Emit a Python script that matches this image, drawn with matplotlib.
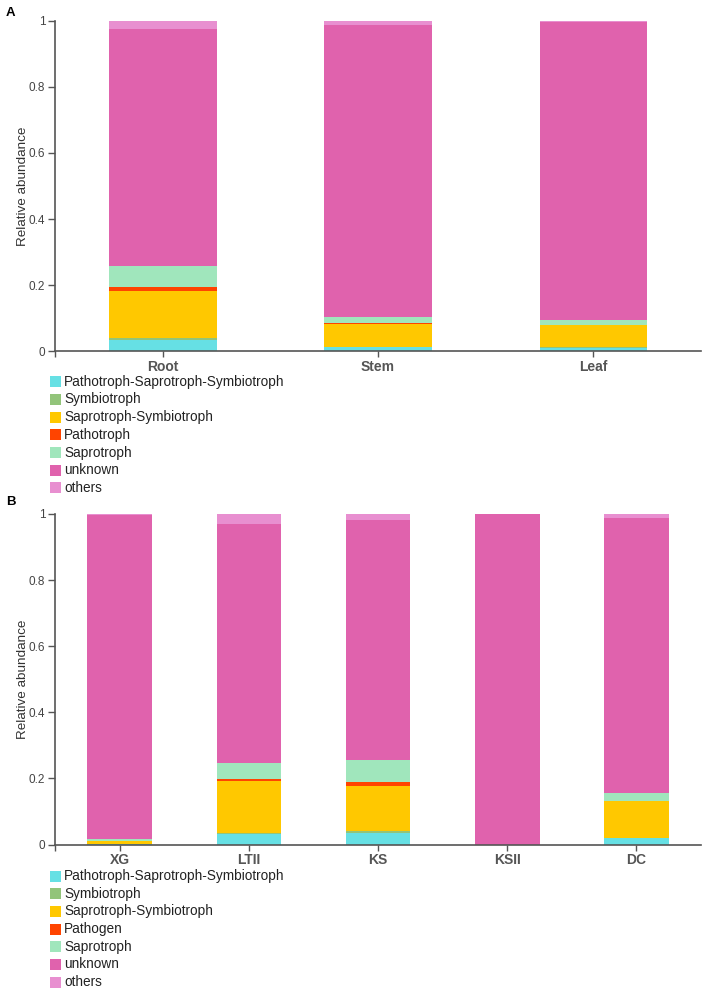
import matplotlib.pyplot as plt
from matplotlib.patches import Rectangle

plt.rcParams['font.family'] = ['Liberation Sans', 'DejaVu Sans']

# panel A: tissues
tissues = ["Root", "Stem", "Leaf"]
guilds_a = ["Pathotroph-Saprotroph-Symbiotroph", "Symbiotroph", "Saprotroph-Symbiotroph",
            "Pathotroph", "Saprotroph", "unknown", "others"]
a_pss = [0.035, 0.012, 0.011]
a_sym = [0.005, 0.001, 0.001]
a_ss = [0.143, 0.070, 0.067]
a_path = [0.011, 0.003, 0.001]
a_sap = [0.064, 0.019, 0.015]
a_unk = [0.717, 0.882, 0.900]
a_oth = [0.025, 0.013, 0.005]

# panel B: sites
sites = ["XG", "LTII", "KS", "KSII", "DC"]
guilds_b = ["Pathotroph-Saprotroph-Symbiotroph", "Symbiotroph", "Saprotroph-Symbiotroph",
            "Pathogen", "Saprotroph", "unknown", "others"]
b_pss = [0.002, 0.033, 0.034, 0.000, 0.020]
b_sym = [0.001, 0.001, 0.006, 0.000, 0.001]
b_ss = [0.008, 0.159, 0.136, 0.000, 0.110]
b_path = [0.000, 0.006, 0.014, 0.000, 0.001]
b_sap = [0.005, 0.048, 0.065, 0.000, 0.023]
b_unk = [0.982, 0.723, 0.727, 1.000, 0.834]
b_oth = [0.002, 0.030, 0.018, 0.000, 0.011]

colors = ["#66e0e4", "#92c47a", "#ffc800", "#ff4400", "#a0e6bc", "#e062ad", "#e88fd0"]

W, H = 706, 992
fig = plt.figure(figsize=(W / 100, H / 100), dpi=100)


def draw_panel(ax, cats, series):
    x = range(len(cats))
    bottom = [0] * len(cats)
    for vals, c in zip(series, colors):
        ax.bar(x, vals, width=0.5, bottom=bottom, color=c, linewidth=0)
        bottom = [b + v for b, v in zip(bottom, vals)]
    ax.set_xlim(-0.5, len(cats) - 0.5)
    ax.set_ylim(0, 1)
    ax.set_yticks([0, 0.2, 0.4, 0.6, 0.8, 1])
    ax.set_yticklabels(["0", "0.2", "0.4", "0.6", "0.8", "1"])
    ax.set_xticks(list(x))
    ax.set_xticks([-0.5], minor=True)
    ax.set_xticklabels(cats, fontweight="bold", fontsize=10, color="#222222")
    ax.tick_params(axis="y", labelsize=8.5, colors="#555555", labelcolor="#444444",
                   length=5, width=1, pad=2)
    ax.tick_params(axis="x", which="both", colors="#555555", length=4, width=1, pad=2)
    for s in ["top", "right"]:
        ax.spines[s].set_visible(False)
    for s in ["left", "bottom"]:
        ax.spines[s].set_color("#555555")
        ax.spines[s].set_linewidth(1.2)
    ax.set_ylabel("Relative abundance", fontsize=9.7, color="#333333")
    ax.yaxis.set_label_coords(-0.040, 0.5)


def draw_legend(labels, y0):
    for i, (lab, c) in enumerate(zip(labels, colors)):
        y = y0 + i * 17.7
        fig.add_artist(Rectangle((50 / W, 1 - (y + 5.5) / H), 11 / W, 11 / H,
                                 transform=fig.transFigure, color=c, linewidth=0))
        fig.text(64 / W, 1 - y / H, lab, fontsize=9.8, va="center", ha="left", color="#222222")


ax_a = fig.add_axes([55 / W, 1 - 351.3 / H, 646 / W, 330.6 / H])
draw_panel(ax_a, tissues, [a_pss, a_sym, a_ss, a_path, a_sap, a_unk, a_oth])
draw_legend(guilds_a, 381.7)

ax_b = fig.add_axes([55 / W, 1 - 844.6 / H, 646 / W, 330.6 / H])
draw_panel(ax_b, sites, [b_pss, b_sym, b_ss, b_path, b_sap, b_unk, b_oth])
draw_legend(guilds_b, 876)

fig.text(6 / W, 1 - 13 / H, "A", fontsize=9.5, fontweight="bold", va="center")
fig.text(6 / W, 1 - 502 / H, "B", fontsize=9.5, fontweight="bold", va="center")

fig.savefig("out.png", dpi=100)
